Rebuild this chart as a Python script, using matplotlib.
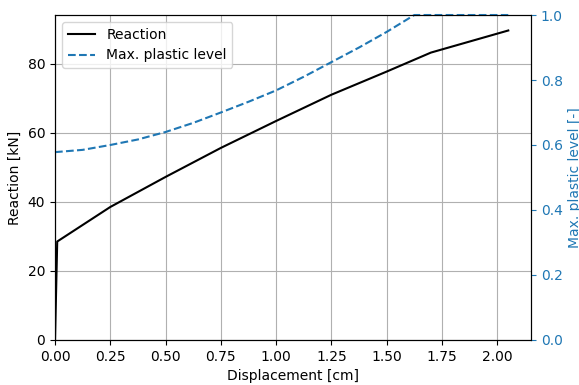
import numpy as np
import matplotlib.pyplot as plt

# displacement [cm] and reaction [kN]
disp = [0.0, 0.01, 0.25, 0.5, 0.75, 1.0, 1.25, 1.5, 1.7, 2.05]
reaction = [0.0, 28.5, 38.5, 47.2, 55.6, 63.4, 71.0, 77.7, 83.2, 89.6]

# max plastic level [-]
disp_pl = [0.0, 0.125, 0.25, 0.375, 0.5, 0.625, 0.75, 0.875, 1.0,
           1.125, 1.25, 1.375, 1.5, 1.625, 1.7, 2.05]
plastic = [0.578, 0.585, 0.60, 0.617, 0.64, 0.668, 0.70, 0.733, 0.768,
           0.81, 0.855, 0.90, 0.948, 1.0, 1.0, 1.0]

fig, ax = plt.subplots(figsize=(5.79, 3.85), dpi=100)
fig.subplots_adjust(left=0.095, right=0.917, top=0.961, bottom=0.117)

l1, = ax.plot(disp, reaction, color="black", lw=1.5, label="Reaction")
ax.set_xlabel("Displacement [cm]")
ax.set_ylabel("Reaction [kN]")
ax.set_xlim(left=0)
ax.set_ylim(bottom=0)
ax.grid(True, color="#b0b0b0", lw=0.8)

ax2 = ax.twinx()
l2, = ax2.plot(disp_pl, plastic, color="tab:blue", ls="--", lw=1.5,
               label="Max. plastic level", clip_on=False)
ax2.set_ylim(0, 1)
ax2.set_ylabel("Max. plastic level [-]", color="tab:blue")
ax2.tick_params(axis="y", colors="tab:blue")

ax.legend(handles=[l1, l2], loc="upper left")

fig.savefig("out.png")
